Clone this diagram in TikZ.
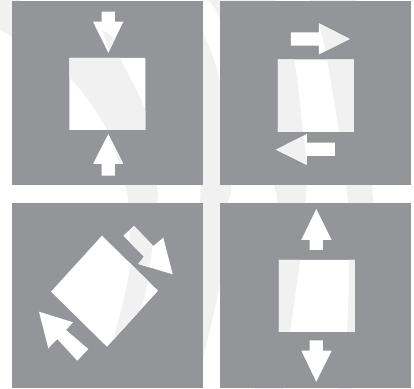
\documentclass[tikz,border=0pt]{standalone}
\usepackage{xcolor}
\definecolor{panelgray}{HTML}{939598}
\definecolor{swooshgray}{HTML}{F1F1F2}
\tikzset{
  panel/.style={fill=panelgray},
  swoosh/.style={fill=swooshgray},
  solidshape/.style={fill=white},
}
% pale bands of the backdrop
\newcommand{\drawbands}{
  \fill[swoosh] plot[smooth] coordinates {(0,30) (12,37) (69,77) (107,130) (125,185) (128,203) (130,265) (120,315) (110,350)}
    -- plot[smooth] coordinates {(110,350) (133,322) (145,295) (152,250) (157,203) (157,185) (146,113) (120,58) (113,38) (102,30)}
    -- (110,53) -- (104,56) -- (30,30) -- (20,0) -- (0,0) -- cycle;
  \fill[swoosh] plot[smooth] coordinates {(190,20) (203,33) (220,83) (231,185) (228,203) (220,283) (203,357) (195,375)}
    -- (200,203) -- (201,185) -- cycle;
  \fill[swoosh] plot[smooth] coordinates {(208,0) (220,18) (250,90) (274,185) (277,203) (272,290) (255,389)}
    -- plot[smooth] coordinates {(283,389) (290,332) (300,260) (306,195) (307,165) (303,132) (294,59) (275,0)} -- cycle;
  \fill[swoosh] plot[smooth] coordinates {(310,0) (319,24) (327,59) (339,132) (346,185) (348,203) (349,260) (347,332) (338,389)}
    -- plot[smooth] coordinates {(352,389) (372,230) (372,185) (365,60) (356,0)} -- cycle;
}
% blocks and arrows of the four panels
\newcommand{\shapepath}{
  (69.5,58) rectangle (145.5,130)
  (101.7,11.7) -- (115,11.7) -- (115,21.7) -- (123.3,21.7) -- (108.3,52.7) -- (93,21.7) -- (101.7,21.7) -- cycle
  (108.3,134) -- (123.3,164) -- (115,164) -- (115,175.7) -- (101.7,175.7) -- (101.7,164) -- (93,164) -- cycle
  (278,59.5) rectangle (354,132)
  (291,32.3) -- (319,32.3) -- (319,23.3) -- (349.7,39) -- (319,54.3) -- (319,45.7) -- (291,45.7) -- cycle
  (276,149.7) -- (307,134) -- (307,142.7) -- (335,142.7) -- (335,156) -- (307,156) -- (307,165) -- cycle
  (102,235.7) -- (158,290.7) -- (107,346.7) -- (51,291.7) -- cycle
  (134,226) -- (123.3,235.7) -- (144,256.7) -- (138.3,264) -- (172.7,274.3) -- (163.3,237.7) -- (153.3,246) -- cycle
  (39,311.7) -- (73,322.3) -- (66,330) -- (88.3,349) -- (77.3,360.7) -- (57.3,339) -- (48.3,348.3) -- cycle
  (279,260) rectangle (355,332)
  (316.3,209) -- (331.7,240) -- (323,240) -- (323,250) -- (309.7,250) -- (309.7,240) -- (301.3,240) -- cycle
  (309.7,340.3) -- (323,340.3) -- (323,350.7) -- (331.7,350.7) -- (316.3,381.7) -- (301.3,350.7) -- (309.7,350.7) -- cycle
}

\begin{document}
\begin{tikzpicture}[x=0.5pt, y=-0.5pt]
    \useasboundingbox (0,0) rectangle (414,389);
    \fill[white] (0,0) rectangle (414,389);
    \drawbands
    % Panels
    \fill[panel] (12.3,1) rectangle (203.3,185);
    \fill[panel] (220.3,1) rectangle (411.3,185);
    \fill[panel] (12.3,203) rectangle (203.3,387.7);
    \fill[panel] (220.3,203) rectangle (411.3,387.7);
    % Blocks and arrows
    \fill[solidshape] \shapepath;
    \begin{scope}
      \clip \shapepath;
      \drawbands
    \end{scope}
  \end{tikzpicture}
\end{document}
